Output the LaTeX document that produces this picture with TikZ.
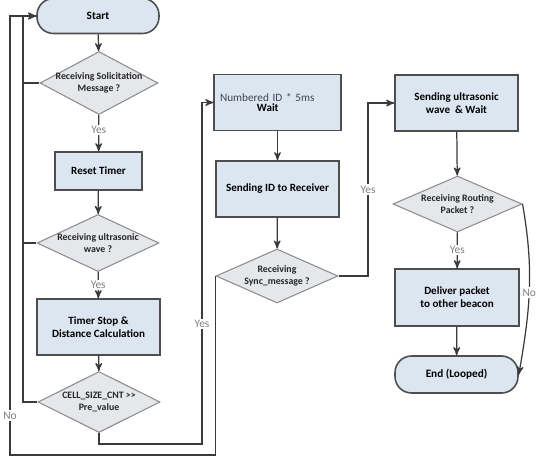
\documentclass[tikz,border=0pt]{standalone}
\usepackage{fontspec}
\setmainfont{Carlito}
\usepackage{tikz}
\usetikzlibrary{arrows,shapes.geometric,calc}
\definecolor{boxfill}{RGB}{220,230,241}
\definecolor{diafill}{RGB}{229,231,234}
\definecolor{edge}{RGB}{78,78,78}
\definecolor{flow}{RGB}{58,58,58}
\definecolor{idtext}{RGB}{60,66,84}
\tikzset{
    >=stealth',
    startstop/.style={
        rectangle,
        rounded corners=0.33cm,
        draw=edge, fill=boxfill, line width=0.9pt,
        minimum width=2.44cm,
        minimum height=0.7cm,
        font={\fontsize{6.4pt}{7.6pt}\selectfont\bfseries}
    },
    process/.style={
        rectangle,
        draw=edge, fill=boxfill, line width=0.85pt,
        minimum width=2.46cm,
        minimum height=1.12cm,
        align=center,
        font={\fontsize{6.3pt}{7.5pt}\selectfont\bfseries}
    },
    decision/.style={
        diamond,
        draw=black!45, fill=diafill, line width=0.6pt,
        inner sep=0pt
    },
    dlabel/.style={
        align=center,
        text=black!85,
        font={\fontsize{5.6pt}{7pt}\selectfont\bfseries}
    },
    line/.style={draw=flow, line width=0.7pt, ->},
    yesno/.style={
        fill=white, text=black!50, inner sep=0.8pt,
        font={\fontsize{6.5pt}{7pt}\selectfont}
    },
}
\begin{document}
\begin{tikzpicture}[x=0.02cm, y=-0.02cm]
\useasboundingbox (0,0) rectangle (536,460);
% left column
\node(start) at (98,16)[startstop]{Start};
\node(d1) at (99,83)[decision, minimum width=2.36cm, minimum height=1.26cm,
    label={[dlabel]center:Receiving Solicitation\\Message ?}]{};
\node(reset) at (98.5,171)[process, minimum width=1.74cm, minimum height=0.76cm]{Reset Timer};
\node(d2) at (98,243)[decision, minimum width=2.44cm, minimum height=1.14cm,
    label={[dlabel]center:Receiving ultrasonic\\wave ?}]{};
\node(stop) at (98.5,327)[process]{Timer Stop \&\\Distance Calculation};
\node(d3) at (99,402)[decision, minimum width=2.44cm, minimum height=1.22cm,
    label={[dlabel]center:CELL\_SIZE\_CNT >{}>\\Pre\_value}]{};
% middle column
\node(num) at (277.5,102.5)[process, align=left, text width=2.3cm]
    {{\mdseries\color{idtext}\fontsize{6.4pt}{7pt}\selectfont Numbered ID * 5ms}\\[-1.5pt]\hspace*{21pt}Wait};
\node(sendid) at (277.5,189)[process]{Sending ID to Receiver};
\node(sync) at (277,276)[decision, minimum width=2.44cm, minimum height=1.08cm,
    label={[dlabel]center:Receiving\\Sync\_message ?}]{};
% right column
\node(sendus) at (456.5,103)[process]{Sending ultrasonic\\wave~ \& Wait};
\node(route) at (457.5,204)[decision, minimum width=2.58cm, minimum height=1.12cm,
    label={[dlabel]center:Receiving Routing\\Packet ?}]{};
\node(deliver) at (457,297.5)[process, minimum width=2.48cm, minimum height=1.14cm]{Deliver packet\\to other beacon};
\node(endnode) at (456.5,374.5)[startstop, minimum width=2.46cm, minimum height=0.74cm]{End (Looped)};
% bends
\coordinate(inner) at (23,16);
\coordinate(nocorner) at (10,455);
\coordinate(yesd3) at (202,444);
\coordinate(yessync) at (368,276);
% connectors
\draw[line] (start) -- (d1);
\draw[line] (d1) -- node[yesno, pos=0.42]{Yes} (reset);
\draw[line] (reset) -- (d2);
\draw[line] (d2) -- node[yesno]{Yes} (stop);
\draw[line] (stop) -- (d3);
\draw[line, -] (d1.west) -- (d1.west -| inner);
\draw[line, -] (d2.west) -- (d2.west -| inner);
\draw[line] (d3.west) -| (inner) -- (start.west);
\draw[line] (sync.west) |- (nocorner) |- node[yesno, pos=0.045]{No} (start.west);
\draw[line] (d3.south) |- (yesd3) |- node[yesno, pos=0.176]{Yes} (num.west);
\draw[line] (num) -- (sendid);
\draw[line] (sendid) -- (sync);
\draw[line] (sync.east) -- (yessync) |- node[yesno, pos=0.25]{Yes} (sendus.west);
\draw[line] (sendus) -- (route);
\draw[line] (route) -- node[yesno]{Yes} (deliver);
\draw[line] (deliver) -- (endnode);
\draw[line] (route.east) to[out=-80, in=80] node[yesno, pos=0.52]{No} (endnode.east);
\end{tikzpicture}
\end{document}
